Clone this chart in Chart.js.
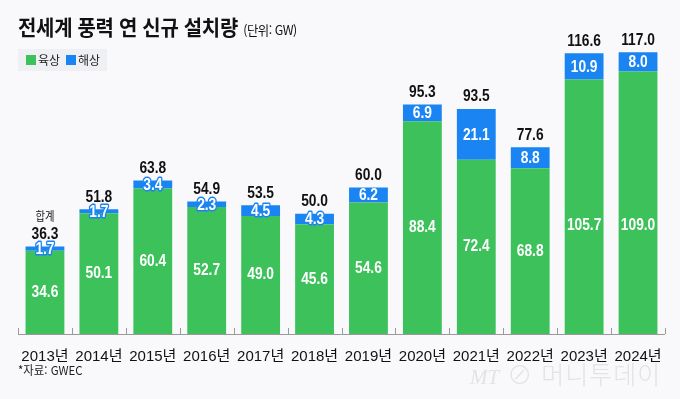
<!DOCTYPE html>
<html lang="ko">
<head>
<meta charset="utf-8">
<script src="https://cdn.jsdelivr.net/npm/chart.js@4/dist/chart.umd.min.js"></script>
<style>
  body { margin: 0; background: #f9f9fb; }
  #wrap { position: relative; width: 680px; height: 399px; overflow: hidden; font-family: "Noto Sans CJK KR", "Liberation Sans", sans-serif; }
  canvas { position: absolute; left: 0; top: 0; }
  .title { position: absolute; left: 18px; top: 11px; font-size: 21px; font-weight: 700; color: #111; transform: scaleX(0.95); transform-origin: left; white-space: nowrap; letter-spacing: -0.3px; }
  .title small { font-size: 13px; font-weight: 400; letter-spacing: -0.5px; }
  .legend { position: absolute; left: 18px; top: 49px; width: 89px; height: 22px; background: #eff0f3; font-size: 12px; color: #222; }
  .legend span { position: absolute; top: 3px; line-height: 16px; }
  .legend i { position: absolute; top: 6px; width: 10px; height: 10px; }
  .source { position: absolute; left: 18px; top: 361px; font-size: 12px; color: #222; transform: scaleX(0.95); transform-origin: left; }
  .mark { position: absolute; left: 470px; top: 355px; font-size: 25px; color: #e3e3e6; white-space: nowrap; font-weight: 300; letter-spacing: 1px; }
  .mark em { font-family: "Liberation Serif", serif; font-size: 21px; letter-spacing: 0; }
</style>
</head>
<body>
<div id="wrap">
  <canvas id="c" width="680" height="399"></canvas>
  <div class="title">전세계 풍력 연 신규 설치량 <small>(단위: GW)</small></div>
  <div class="legend">
    <i style="left:8px;background:#3dc15b"></i><span style="left:20px">육상</span>
    <i style="left:48px;background:#1a85f2"></i><span style="left:60px">해상</span>
  </div>
  <div class="source">*자료: GWEC</div>
  <div class="mark"><em>MT</em> ⊘ 머니투데이</div>
</div>
<script>
const years = ['2013년', '2014년', '2015년', '2016년', '2017년', '2018년', '2019년', '2020년', '2021년', '2022년', '2023년', '2024년'];
const onshore = [34.6, 50.1, 60.4, 52.7, 49.0, 45.6, 54.6, 88.4, 72.4, 68.8, 105.7, 109.0];
const offshore = [1.7, 1.7, 3.4, 2.3, 4.5, 4.3, 6.2, 6.9, 21.1, 8.8, 10.9, 8.0];
const totals = [36.3, 51.8, 63.8, 54.9, 53.5, 50.0, 60.0, 95.3, 93.5, 77.6, 116.6, 117.0];

const GREEN = '#3dc15b';
const BLUE = '#1a85f2';
const NUM_FONT = 'bold 16px "Liberation Sans", Arial, sans-serif';

// condensed text, the original uses a narrow face
function txt(ctx, s, x, y, { font = NUM_FONT, color = '#fff', stroke = null, base = 'middle' } = {}) {
  ctx.save();
  ctx.translate(x, y);
  ctx.scale(0.86, 1);
  ctx.font = font;
  ctx.textAlign = 'center';
  ctx.textBaseline = base;
  if (stroke) {
    ctx.lineWidth = 3;
    ctx.lineJoin = 'round';
    ctx.strokeStyle = stroke;
    ctx.strokeText(s, 0, 0);
  }
  ctx.fillStyle = color;
  ctx.fillText(s, 0, 0);
  ctx.restore();
}

// axis line + small upward ticks between categories
const axisPlugin = {
  id: 'axisTicks',
  afterDatasetsDraw(chart) {
    const { ctx, chartArea } = chart;
    const x = chart.scales.x;
    const y0 = chart.scales.y.getPixelForValue(0);
    const step = x.getPixelForValue(1) - x.getPixelForValue(0);
    ctx.save();
    ctx.strokeStyle = '#9a9a9a';
    ctx.lineWidth = 1;
    ctx.beginPath();
    ctx.moveTo(chartArea.left, y0 + 0.5);
    ctx.lineTo(chartArea.right, y0 + 0.5);
    for (let i = 0; i <= years.length; i++) {
      const px = Math.round(x.getPixelForValue(i) - step / 2) + 0.5;
      ctx.moveTo(px, y0);
      ctx.lineTo(px, y0 - 6);
    }
    ctx.stroke();
    ctx.restore();
  }
};

const labelPlugin = {
  id: 'barLabels',
  afterDatasetsDraw(chart) {
    const { ctx } = chart;
    const g = chart.getDatasetMeta(0).data;
    const b = chart.getDatasetMeta(1).data;
    g.forEach((bar, i) => {
      const mid = Math.max((bar.y + bar.base) / 2, 226);
      txt(ctx, onshore[i].toFixed(1), bar.x, mid);
    });
    b.forEach((bar, i) => {
      const h = bar.base - bar.y;
      const mid = (bar.y + bar.base) / 2 + 1;
      txt(ctx, offshore[i].toFixed(1), bar.x, mid, { stroke: h < 14 ? BLUE : null });
      txt(ctx, totals[i].toFixed(1), bar.x, bar.y - 4, { color: '#111', base: 'bottom' });
      if (i === 0) {
        txt(ctx, '합계', bar.x, bar.y - 24, { color: '#111', base: 'bottom', font: '12px "Noto Sans CJK KR", sans-serif' });
      }
    });
  }
};

new Chart(document.getElementById('c'), {
  type: 'bar',
  data: {
    labels: years,
    datasets: [
      { label: '육상', data: onshore, backgroundColor: GREEN },
      { label: '해상', data: offshore, backgroundColor: BLUE },
    ],
  },
  options: {
    responsive: false,
    animation: false,
    layout: { padding: { top: 21, left: 18, right: 15, bottom: 27 } },
    datasets: { bar: { barPercentage: 0.72, categoryPercentage: 1, borderWidth: 0 } },
    plugins: { legend: { display: false }, tooltip: { enabled: false } },
    scales: {
      x: {
        stacked: true,
        grid: { display: false },
        border: { display: false },
        ticks: { color: '#111', padding: 6, font: { size: 15, family: '"Liberation Sans", "Noto Sans CJK KR", sans-serif' } },
      },
      y: { stacked: true, display: false, min: 0, max: 130 },
    },
  },
  plugins: [axisPlugin, labelPlugin],
});
</script>
</body>
</html>
